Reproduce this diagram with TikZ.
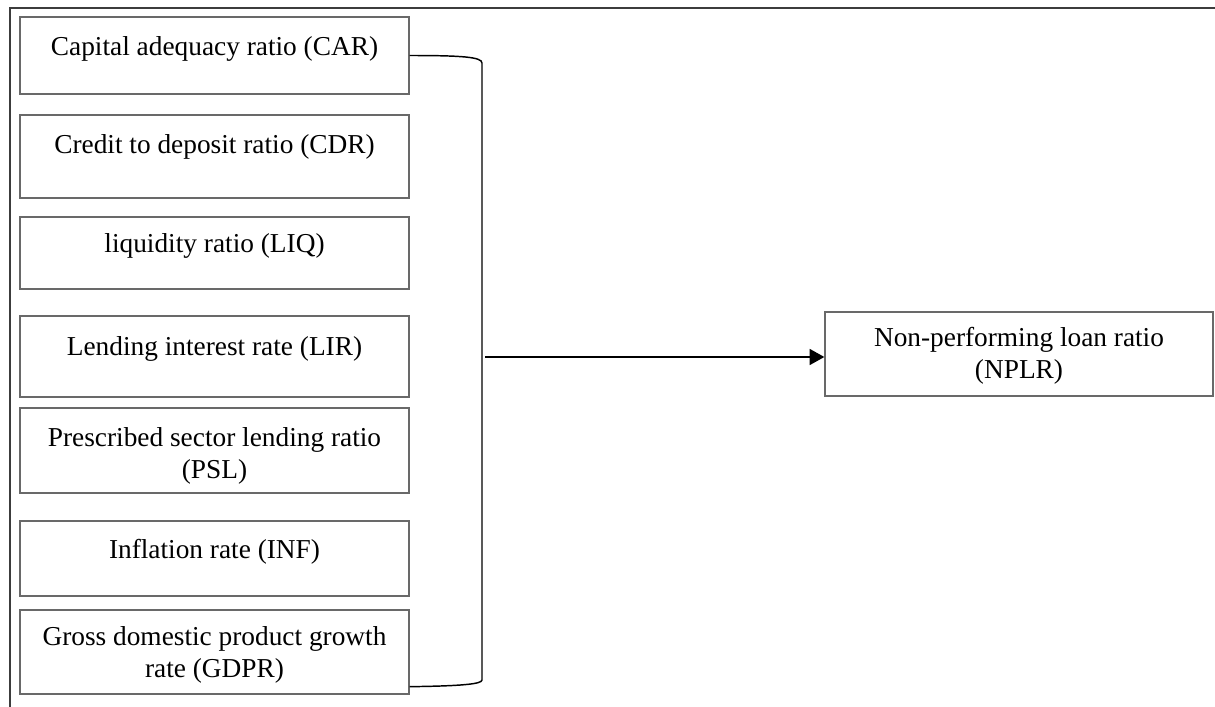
\documentclass[tikz,border=0pt]{standalone}
\usepackage{fontspec}
\setmainfont{Liberation Serif}
\usetikzlibrary{arrows.meta,calc}
\definecolor{boxgray}{RGB}{105,105,105}
\definecolor{framegray}{RGB}{60,60,60}
\begin{document}
\begin{tikzpicture}[x=0.75pt,y=-0.75pt,
  box/.style={draw=boxgray,line width=1pt,minimum width=291.75pt,inner sep=0pt},
  lbl/.style={anchor=north,align=center,inner sep=0pt,font=\fontsize{20.5pt}{24pt}\selectfont},
  link/.style={draw=black,line width=1.1pt},
  frameline/.style={draw=framegray,line width=1.5pt}]
\useasboundingbox (0,0) rectangle (1215,707);
\draw[frameline] (10,707) -- (10,8) -- (1215,8);
% left boxes
\node[box,minimum height=57.75pt] (b1) at (214.5,55.5) {};
\node[lbl] (t1) at (214.5,36) {Capital adequacy ratio (CAR)};
\node[box,minimum height=62.25pt] (b2) at (214.5,156.5) {};
\node[lbl] (t2) at (214.5,134) {Credit to deposit ratio (CDR)};
\node[box,minimum height=54pt] (b3) at (214.5,253) {};
\node[lbl] (t3) at (214.5,233) {liquidity ratio (LIQ)};
\node[box,minimum height=60.75pt] (b4) at (214.5,356.5) {};
\node[lbl] (t4) at (214.5,336) {Lending interest rate (LIR)};
\node[box,minimum height=63.75pt] (b5) at (214.5,450.5) {};
\node[lbl] (t5) at (214.5,427) {Prescribed sector lending ratio\\(PSL)};
\node[box,minimum height=56.25pt] (b6) at (214.5,558.5) {};
\node[lbl] (t6) at (214.5,539) {Inflation rate (INF)};
\node[box,minimum height=63pt] (b7) at (214.5,652) {};
\node[lbl] (t7) at (214.5,626) {Gross domestic product growth\\rate (GDPR)};
% target box
\node[box,minimum width=291pt,minimum height=63pt] (npl) at (1019,354) {};
\node[lbl] (tn) at (1019,327) {Non-performing loan ratio\\(NPLR)};
% bracket
\coordinate (b7r) at ($(b7.south east)+(0,-8)$);
\draw[link] (b1.east) .. controls (462,55.5) and (482,57) .. (482,63)
  -- (482,680) .. controls (482,684) and (462,686) .. (b7r);
% arrow
\coordinate (j) at (485,357);
\draw[draw=black,line width=1pt,-{Triangle[length=11pt,width=12pt]}] (j) -- (j -| npl.west);
\end{tikzpicture}
\end{document}
